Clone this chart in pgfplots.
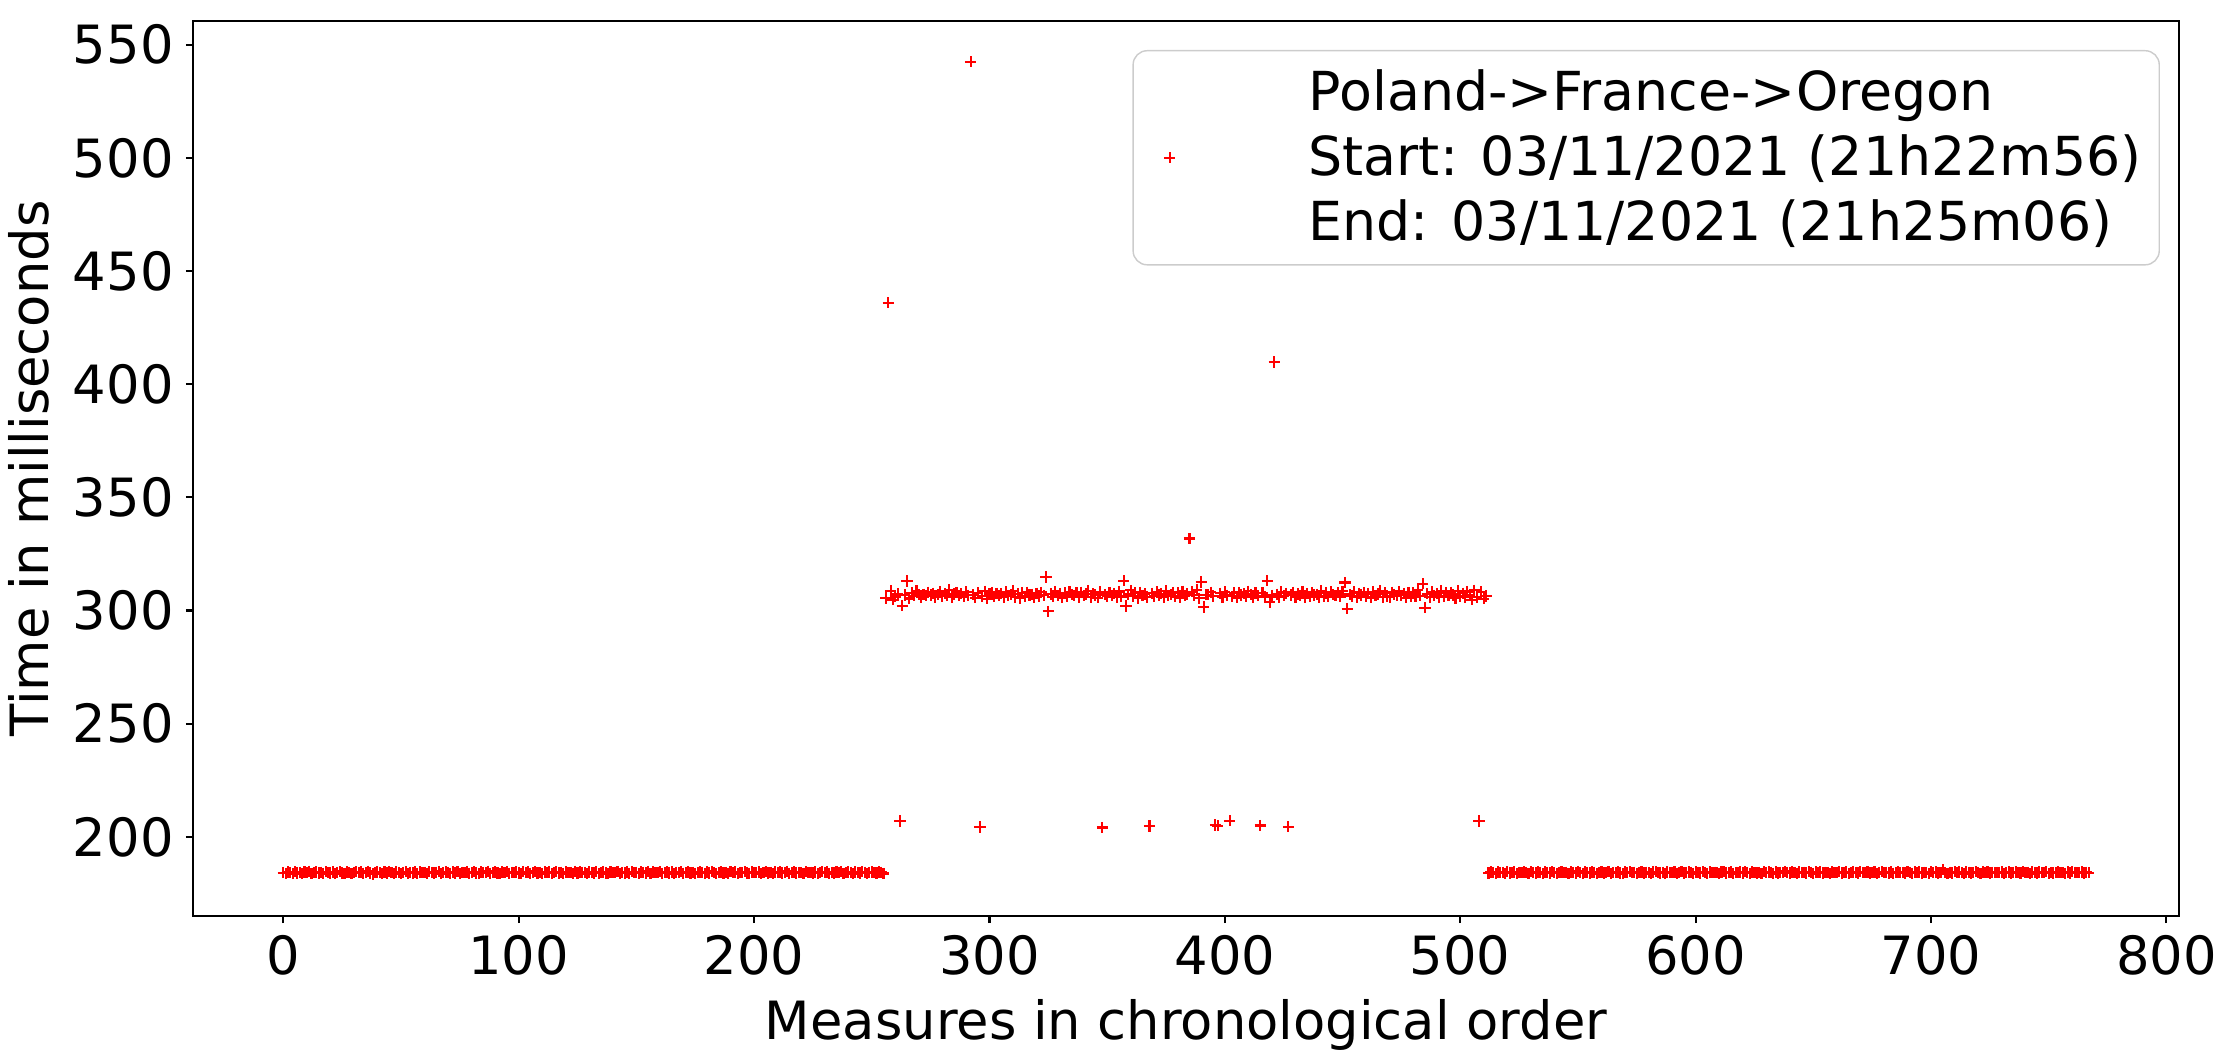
\documentclass[border=0pt]{standalone}
\usepackage{fontspec}
\setmainfont{DejaVu Sans}
\usepackage{pgfplots}
\usepackage{pgfplotstable}
\pgfplotsset{compat=1.18}

% one value per measure, in chronological order
\pgfplotstableread[row sep=\\]{
y\\
184.2\\183.9\\184.5\\184.1\\183.8\\184.6\\184.0\\184.3\\183.7\\184.4\\184.1\\184.8\\183.9\\184.2\\184.5\\184.0\\
184.3\\183.8\\184.6\\184.1\\184.0\\184.4\\183.7\\184.2\\184.7\\184.0\\183.9\\184.5\\184.2\\183.8\\184.3\\184.6\\
184.1\\184.4\\183.9\\184.2\\184.8\\184.0\\183.6\\184.3\\184.5\\184.1\\183.8\\184.4\\184.0\\184.7\\184.2\\183.9\\
184.5\\184.1\\183.8\\184.3\\184.6\\183.9\\184.2\\184.0\\184.4\\183.7\\184.5\\184.1\\184.3\\183.9\\184.6\\184.2\\
184.0\\184.3\\184.7\\183.8\\184.1\\184.5\\184.2\\183.9\\184.4\\184.0\\184.6\\183.8\\184.3\\184.1\\184.5\\183.9\\
184.2\\184.6\\184.0\\183.7\\184.4\\184.1\\184.3\\184.8\\183.9\\184.2\\184.5\\184.0\\183.8\\184.4\\184.1\\184.6\\
183.9\\184.3\\184.1\\184.5\\184.0\\183.8\\184.6\\184.2\\184.4\\183.9\\184.1\\184.7\\184.0\\184.3\\183.8\\184.5\\
184.1\\184.4\\183.9\\184.2\\184.6\\184.0\\184.3\\183.7\\184.5\\184.1\\184.2\\183.9\\184.8\\184.0\\184.4\\184.2\\
184.3\\183.8\\184.5\\184.1\\184.0\\184.6\\183.9\\184.2\\184.4\\184.0\\183.8\\184.5\\184.1\\184.3\\184.7\\183.9\\
184.2\\184.0\\184.4\\183.8\\184.6\\184.1\\184.3\\183.9\\184.5\\184.2\\184.0\\184.7\\183.8\\184.4\\184.1\\184.3\\
184.6\\183.9\\184.2\\184.4\\184.0\\184.5\\183.7\\184.3\\184.1\\184.6\\183.9\\184.2\\184.5\\184.0\\184.3\\183.8\\
184.1\\184.5\\184.2\\183.9\\184.4\\184.0\\184.7\\184.1\\183.8\\184.3\\184.5\\184.0\\184.2\\183.9\\184.6\\184.1\\
184.4\\183.8\\184.3\\184.1\\184.6\\184.0\\183.9\\184.5\\184.2\\184.1\\184.4\\183.7\\184.3\\184.6\\184.0\\184.2\\
183.9\\184.4\\184.1\\184.5\\184.0\\184.3\\184.7\\183.8\\184.2\\184.5\\184.0\\184.3\\184.1\\183.9\\184.6\\184.2\\
184.3\\184.0\\184.5\\183.9\\184.2\\184.6\\184.1\\184.4\\183.8\\184.3\\184.0\\184.5\\184.2\\184.7\\183.9\\184.1\\
184.5\\184.2\\183.8\\184.4\\184.1\\184.0\\184.6\\184.3\\183.9\\184.2\\184.5\\184.1\\184.0\\184.4\\184.3\\183.8\\
305.5\\436.0\\308.6\\304.8\\306.2\\307.4\\207.0\\302.1\\306.9\\313.0\\305.3\\307.8\\306.5\\308.7\\307.1\\306.0\\
307.2\\306.5\\308.1\\306.9\\307.6\\305.8\\307.0\\308.4\\306.3\\307.5\\306.8\\309.2\\305.9\\307.3\\308.0\\306.6\\
307.4\\306.1\\308.2\\306.7\\542.5\\307.0\\305.6\\307.9\\204.3\\306.4\\308.5\\305.2\\307.3\\308.0\\306.2\\307.6\\
306.8\\307.5\\305.9\\308.3\\306.6\\307.1\\308.8\\306.0\\307.4\\305.5\\307.9\\306.3\\308.1\\306.9\\307.2\\305.8\\
307.6\\306.4\\308.0\\306.7\\314.8\\299.6\\307.3\\306.1\\308.4\\306.8\\307.5\\305.7\\307.9\\306.2\\308.3\\307.0\\
306.5\\307.8\\305.9\\308.1\\306.6\\307.3\\308.6\\306.0\\307.4\\306.9\\305.6\\308.2\\204.1\\307.1\\306.3\\308.0\\
306.7\\307.5\\305.8\\308.4\\306.2\\313.1\\302.0\\307.2\\308.9\\306.4\\307.7\\305.5\\308.1\\306.8\\307.3\\306.0\\
204.8\\307.6\\306.3\\308.2\\306.9\\307.4\\305.9\\308.7\\306.5\\307.1\\308.0\\306.2\\307.8\\305.7\\308.5\\306.6\\
307.3\\331.8\\308.3\\306.8\\309.1\\305.4\\312.6\\301.5\\307.0\\307.0\\308.1\\306.4\\205.2\\204.9\\307.6\\306.0\\
308.2\\306.8\\207.1\\306.3\\307.9\\305.6\\308.0\\306.9\\307.4\\306.2\\308.5\\307.1\\305.9\\307.7\\306.5\\205.0\\
307.8\\306.2\\313.2\\303.8\\306.7\\409.8\\307.2\\305.8\\308.3\\306.5\\307.6\\204.4\\306.9\\308.1\\306.0\\307.3\\
306.6\\308.4\\305.7\\307.5\\306.3\\308.0\\306.9\\307.2\\305.9\\308.6\\306.4\\307.7\\306.1\\308.2\\307.0\\306.5\\
307.9\\306.2\\308.5\\312.4\\300.8\\307.1\\306.4\\308.3\\305.8\\307.6\\306.9\\308.0\\306.1\\307.4\\305.6\\308.2\\
306.7\\307.3\\308.6\\306.0\\307.8\\306.4\\305.9\\308.1\\307.2\\306.5\\308.4\\306.8\\307.5\\305.7\\308.0\\306.3\\
307.7\\306.1\\308.9\\306.6\\311.8\\301.2\\307.4\\306.0\\308.2\\306.8\\307.5\\305.8\\308.6\\306.3\\307.9\\306.5\\
308.1\\306.9\\305.4\\308.7\\306.2\\307.6\\305.9\\308.4\\306.7\\304.8\\309.0\\306.0\\207.0\\308.3\\305.2\\306.4\\
184.0\\184.4\\184.1\\183.8\\184.5\\184.2\\184.3\\183.9\\184.6\\184.0\\184.2\\184.5\\183.8\\184.3\\184.1\\184.4\\
184.2\\183.9\\184.6\\184.1\\184.0\\184.4\\184.3\\183.7\\184.5\\184.2\\184.0\\184.6\\184.1\\183.9\\184.3\\184.5\\
184.1\\184.3\\183.8\\184.5\\184.2\\184.0\\184.7\\184.1\\183.9\\184.4\\184.2\\184.0\\184.5\\184.3\\183.8\\184.1\\
184.4\\184.0\\184.3\\184.6\\183.9\\184.2\\184.1\\184.5\\184.0\\183.8\\184.4\\184.2\\184.6\\184.1\\184.3\\183.9\\
184.2\\184.5\\184.0\\184.3\\184.1\\183.7\\184.4\\184.6\\184.2\\184.0\\184.3\\183.9\\184.5\\184.1\\184.2\\184.4\\
183.9\\184.3\\184.6\\184.0\\184.2\\184.5\\184.1\\183.8\\184.4\\184.3\\184.0\\184.6\\184.2\\183.9\\184.5\\184.1\\
184.3\\184.1\\183.9\\184.4\\184.6\\184.0\\184.2\\184.5\\183.8\\184.3\\184.1\\184.4\\184.0\\184.6\\184.2\\183.9\\
184.5\\184.2\\184.0\\184.3\\183.9\\184.6\\184.1\\184.4\\184.2\\183.8\\184.5\\184.0\\184.3\\184.1\\184.7\\184.2\\
184.0\\184.4\\184.2\\183.9\\184.5\\184.1\\184.3\\184.0\\184.6\\184.2\\183.8\\184.4\\184.1\\184.5\\184.0\\184.3\\
184.2\\183.9\\184.5\\184.1\\184.3\\184.6\\184.0\\184.2\\184.4\\183.9\\184.1\\184.5\\184.3\\184.0\\184.6\\184.2\\
184.1\\184.4\\184.0\\184.3\\184.5\\183.8\\184.2\\184.6\\184.1\\184.3\\184.0\\184.4\\183.9\\184.2\\184.5\\184.1\\
184.3\\184.0\\184.6\\184.2\\183.9\\184.4\\184.1\\184.5\\184.0\\184.3\\184.2\\183.8\\184.6\\184.1\\184.4\\184.0\\
184.2\\185.4\\184.1\\183.9\\184.3\\184.0\\184.6\\184.2\\184.4\\184.1\\183.8\\184.5\\184.3\\184.0\\184.2\\184.6\\
184.1\\183.9\\184.4\\184.2\\184.5\\184.0\\184.3\\184.1\\184.2\\184.2\\184.4\\183.9\\184.1\\184.5\\184.0\\184.3\\
184.4\\184.2\\184.0\\184.6\\184.1\\184.3\\183.8\\184.5\\184.2\\184.0\\184.4\\184.1\\184.3\\184.6\\183.9\\184.2\\
184.0\\184.3\\184.5\\184.1\\184.2\\183.9\\184.4\\184.0\\184.6\\184.3\\184.1\\184.2\\184.5\\184.0\\184.3\\184.1\\
}\measures

\begin{document}
\begin{tikzpicture}
\begin{axis}[
  scale only axis,
  width=19.86cm, height=8.95cm,
  xmin=-38.35, xmax=805.35,
  ymin=165, ymax=560.5,
  xtick={0,100,...,800},
  ytick={200,250,...,550},
  tick align=outside,
  major tick length=0.07cm,
  tick style={black, line width=0.6pt},
  axis line style={line width=0.6pt},
  xtick pos=bottom, ytick pos=left,
  /pgf/number format/assume math mode=true,
  tick label style={font=\fontsize{15}{18}\selectfont},
  label style={font=\fontsize{15}{18}\selectfont},
  xlabel={Measures in chronological order},
  ylabel={Time in milliseconds},
  legend style={at={(0.9904,0.9676)}, anchor=north east,
    draw=black!20, rounded corners=4pt, fill=white,
    inner ysep=3.5pt,
    font=\fontsize{15.3}{18.4}\selectfont,
    cells={align=left, anchor=west}},
  legend image code/.code={%
    \draw[#1] plot coordinates {(0.26cm,0cm)};
    \path[draw=none, fill=none] (0cm,0cm) -- (1.58cm,0cm);},
]
\addplot[only marks, mark=+, red, mark size=1.6pt, line width=0.6pt]
  table[x expr=\coordindex, y=y] {\measures};
\addlegendentry{Poland->France->Oregon\\Start: 03/11/2021 (21h22m56)\\End: 03/11/2021 (21h25m06)}
\end{axis}
% page frame as in the reference: 22.23cm x 10.55cm around the plot box
\pgfresetboundingbox
\path (current axis.south west) ++(-1.93cm,-1.39cm) rectangle ++(22.23cm,10.55cm);
\end{tikzpicture}
\end{document}
